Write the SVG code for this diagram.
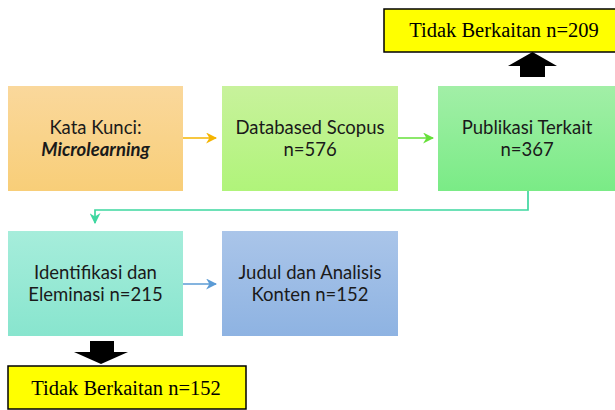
<svg xmlns="http://www.w3.org/2000/svg" width="615" height="410" viewBox="0 0 615 410">
<defs>
<linearGradient id="gOrange" x1="0" y1="0" x2="0" y2="1"><stop offset="0" stop-color="#FAD89C"/><stop offset="1" stop-color="#F8CE78"/></linearGradient>
<linearGradient id="gLime" x1="0" y1="0" x2="0" y2="1"><stop offset="0" stop-color="#C8F29C"/><stop offset="1" stop-color="#B0F47A"/></linearGradient>
<linearGradient id="gGreen" x1="0" y1="0" x2="0" y2="1"><stop offset="0" stop-color="#A2EFA7"/><stop offset="1" stop-color="#7AEB86"/></linearGradient>
<linearGradient id="gTeal" x1="0" y1="0" x2="0" y2="1"><stop offset="0" stop-color="#A6EDDB"/><stop offset="1" stop-color="#88E5CE"/></linearGradient>
<linearGradient id="gBlue" x1="0" y1="0" x2="0" y2="1"><stop offset="0" stop-color="#AAC5E9"/><stop offset="1" stop-color="#8EB3E2"/></linearGradient>
<marker id="mOrange" viewBox="0 0 10 10" refX="9" refY="5" markerWidth="11" markerHeight="11" markerUnits="userSpaceOnUse" orient="auto"><path d="M0,0 L10,5 L0,10 L3,5 Z" fill="#F5B400"/></marker>
<marker id="mLime" viewBox="0 0 10 10" refX="9" refY="5" markerWidth="11" markerHeight="11" markerUnits="userSpaceOnUse" orient="auto"><path d="M0,0 L10,5 L0,10 L3,5 Z" fill="#66E03A"/></marker>
<marker id="mTeal" viewBox="0 0 10 10" refX="9" refY="5" markerWidth="11" markerHeight="11" markerUnits="userSpaceOnUse" orient="auto"><path d="M0,0 L10,5 L0,10 L3,5 Z" fill="#3ED7A0"/></marker>
<marker id="mBlue" viewBox="0 0 10 10" refX="9" refY="5" markerWidth="11" markerHeight="11" markerUnits="userSpaceOnUse" orient="auto"><path d="M0,0 L10,5 L0,10 L3,5 Z" fill="#5B9BD5"/></marker>
</defs>
<style>
.lbl{font-family:Lato,"Open Sans","Liberation Sans",sans-serif;font-size:18.5px;fill:#1a1a1a;text-anchor:middle}
.ser{font-family:"Liberation Serif","Times New Roman",serif;font-size:20.5px;fill:#000;text-anchor:middle}
.ybox{fill:#FFFF00;stroke:#000;stroke-width:1.5}
.conn{fill:none;stroke-width:1.7}
</style>
<rect width="615" height="410" fill="#fff"/>

<g id="connectors">
<line class="conn" x1="183" y1="138" x2="216" y2="138" stroke="#F5B400" marker-end="url(#mOrange)"/>
<line class="conn" x1="398" y1="138" x2="433" y2="138" stroke="#66E03A" marker-end="url(#mLime)"/>
<polyline class="conn" points="528,191 528,210 95,210 95,223" stroke="#3ED7A0" marker-end="url(#mTeal)"/>
<line class="conn" x1="183" y1="284" x2="216" y2="284" stroke="#5B9BD5" marker-end="url(#mBlue)"/>
<polygon points="520,77 545,77 545,66 557,66 532.5,52 508,66 520,66" fill="#000"/>
<polygon points="90,341 114,341 114,352 128,352 101,364 74,352 90,352" fill="#000"/>
</g>

<g id="kata-kunci">
<rect x="8" y="86" width="175" height="105" fill="url(#gOrange)"/>
<text class="lbl" x="95.5" y="134">Kata Kunci:</text>
<text class="lbl" x="95.5" y="156" font-weight="bold" font-style="italic">Microlearning</text>
</g>
<g id="databased-scopus">
<rect x="222" y="86" width="176" height="105" fill="url(#gLime)"/>
<text class="lbl" x="310" y="134">Databased Scopus</text>
<text class="lbl" x="310" y="156">n=576</text>
</g>
<g id="publikasi-terkait">
<rect x="438" y="86" width="177" height="105" fill="url(#gGreen)"/>
<text class="lbl" x="527" y="134">Publikasi Terkait</text>
<text class="lbl" x="527" y="156">n=367</text>
</g>
<g id="tidak-berkaitan-209">
<rect class="ybox" x="384" y="9" width="232" height="43"/>
<text class="ser" x="504" y="37">Tidak Berkaitan n=209</text>
</g>
<g id="identifikasi">
<rect x="8" y="231" width="175" height="105" fill="url(#gTeal)"/>
<text class="lbl" x="95.5" y="279">Identifikasi dan</text>
<text class="lbl" x="95.5" y="301">Eleminasi n=215</text>
</g>
<g id="judul">
<rect x="222" y="231" width="176" height="105" fill="url(#gBlue)"/>
<text class="lbl" x="310" y="279">Judul dan Analisis</text>
<text class="lbl" x="310" y="301">Konten n=152</text>
</g>
<g id="tidak-berkaitan-152">
<rect class="ybox" x="8" y="366" width="238" height="43"/>
<text class="ser" x="126" y="395">Tidak Berkaitan n=152</text>
</g>
</svg>
